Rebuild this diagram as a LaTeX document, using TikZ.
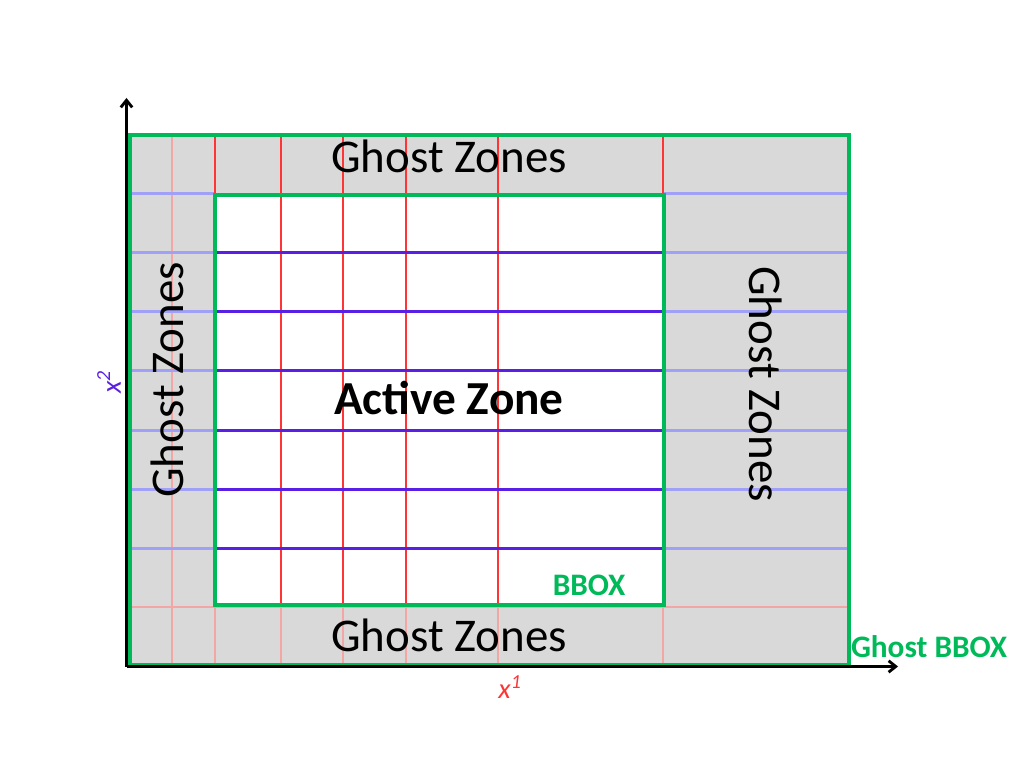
\documentclass[tikz,border=0pt]{standalone}
\usepackage{fontspec}
\setmainfont{Carlito}
\usetikzlibrary{arrows.meta}
\definecolor{ggreen}{HTML}{00BA5A}
\definecolor{gfill}{HTML}{D9D9D9}
\definecolor{gred}{HTML}{FF3535}
\definecolor{pred}{HTML}{F2A6A6}
\definecolor{gpurp}{HTML}{5A1FE4}
\definecolor{pblue}{HTML}{A0A0F8}
\tikzset{
  ghosttext/.style={font=\fontsize{33}{39}\selectfont, inner sep=0pt},
  activetext/.style={font=\bfseries\fontsize{33.3}{39}\selectfont, inner sep=0pt},
  boxlabel/.style={font=\bfseries\fontsize{22}{26}\selectfont, text=ggreen, inner sep=0pt},
  redline/.style={gred, line width=1.9pt},
  paleredline/.style={pred, line width=1.9pt},
  purpline/.style={gpurp, line width=2.11pt},
  paleblueline/.style={pblue, line width=2.11pt},
  greenbox/.style={ggreen, line width=3pt},
  axisline/.style={black, line width=2pt, -{Straight Barb[length=5pt,width=8pt,line width=2pt]}},
}
\begin{document}
\begin{tikzpicture}[x=0.703125pt,y=-0.703125pt]
\useasboundingbox (0,0) rectangle (1024,768);
% fills
\fill[gfill] (129,134) rectangle (849,666);
\fill[white] (215,194) rectangle (664,606);
% pale lines
\draw[paleredline] (172,134) -- (172,666);
\foreach \x in {215,281,343,406,498,663}{
  \draw[paleredline] (\x,606) -- (\x,666);
}
\draw[paleredline] (129,607) -- (849,607);
\foreach \y in {193,252,311,370,430,489,548}{
  \draw[paleblueline] (129,\y.5) -- (215,\y.5);
  \draw[paleblueline] (664,\y.5) -- (849,\y.5);
}
% strong lines
\foreach \x in {215,281,343,406,498,663}{
  \draw[redline] (\x,134) -- (\x,606);
}
\foreach \y in {252,311,370,430,489,548}{
  \draw[purpline] (215,\y.5) -- (664,\y.5);
}
% boxes
\draw[greenbox] (130,135) rectangle (849,665);
\draw[greenbox] (215,195) rectangle (664,605);
% axes
\coordinate (O) at (126.5,666.5);
\coordinate (ytip) at (126.5,98);
\coordinate (xtip) at (898,666.5);
\draw[axisline] (O) -- (ytip);
\draw[axisline] (O) -- (xtip);
% texts
\node[ghosttext] (gtop) at (449,156) {Ghost Zones};
\node[ghosttext] (gbot) at (449,635) {Ghost Zones};
\node[ghosttext, rotate=90] (gleft) at (167,380) {Ghost Zones};
\node[ghosttext, rotate=-90] (gright) at (766,384) {Ghost Zones};
\node[activetext] (active) at (449,398) {Active Zone};
\node[boxlabel] (bbox) at (589,585) {BBOX};
\node[boxlabel] (gbbox) at (929,647) {Ghost BBOX};
\node[font=\fontsize{20}{24}\selectfont\itshape, text=gred, inner sep=0pt] (x1) at (510,687) {x\textsuperscript{1}};
\node[font=\fontsize{20}{24}\selectfont\itshape, text=gpurp, inner sep=0pt, rotate=90] (x2) at (109,382) {x\textsuperscript{2}};
\end{tikzpicture}
\end{document}
